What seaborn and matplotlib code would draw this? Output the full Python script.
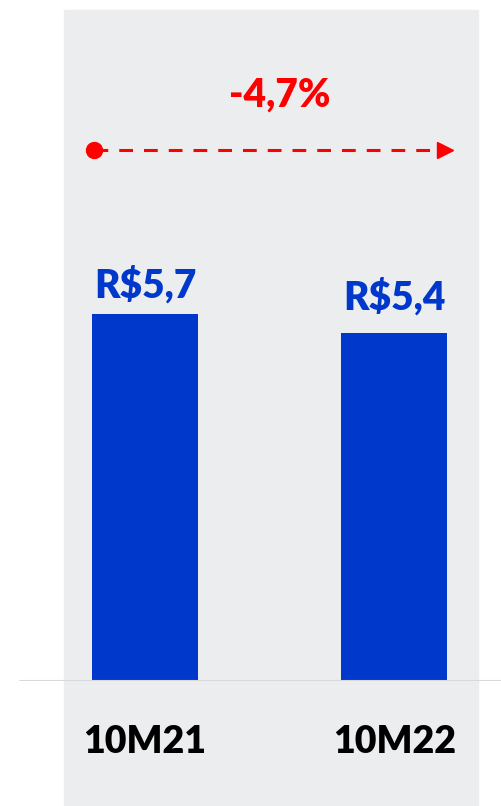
import matplotlib
matplotlib.use("Agg")
import matplotlib.pyplot as plt
from matplotlib.patches import Rectangle
import pandas as pd
import seaborn as sns

# Data
periods = ["10M21", "10M22"]
values = [5.7, 5.4]
value_labels = ["R$5,7", "R$5,4"]
change_label = "-4,7%"

BLUE = "#0038CC"
RED = "#FF0000"
PANEL = "#ECEDEF"
WEIGHT = "heavy"

sns.set_style("white")
plt.rcParams["font.family"] = ["Lato", "DejaVu Sans"]

df = pd.DataFrame({"period": periods, "value": values})

fig = plt.figure(figsize=(5.01, 8.06), dpi=100)
# gray background panel behind the chart
fig.patches.append(Rectangle((64 / 501, 0), (478 - 64) / 501, 796 / 806,
                             transform=fig.transFigure, color=PANEL, zorder=-10))
ax = fig.add_axes([0, 125 / 806, 1, 681 / 806])
ax.set_facecolor("none")
ax.set_zorder(1)

sns.barplot(data=df, x="period", y="value", color=BLUE, saturation=1,
            width=0.425, linewidth=0, ax=ax)

ax.set_xlim(-0.581, 1.427)
ax.set_ylim(0, 10.576)
sns.despine(ax=ax, left=True, bottom=True)
ax.set_yticks([])
ax.set_xlabel("")
ax.set_ylabel("")
ax.axhline(0, xmin=0.04, xmax=1, color="#D9D9D9", lw=1.5, zorder=1)

ax.tick_params(axis="x", length=0, pad=51.8, labelsize=27)
for lbl in ax.get_xticklabels():
    lbl.set_fontweight(WEIGHT)
    lbl.set_verticalalignment("baseline")
    lbl.set_color("black")

# value labels above bars
pads = [11.5, 17.3]
for i, (v, txt) in enumerate(zip(values, value_labels)):
    ax.annotate(txt, (i, v), xytext=(0, pads[i]), textcoords="offset points",
                ha="center", va="baseline", fontsize=28, fontweight=WEIGHT,
                color=BLUE)

# change arrow
y_arrow = 8.25
x0, x1 = 0 - 0.204, 1 + 0.17
ax.plot([x0, x1], [y_arrow, y_arrow], color=RED, lw=2.2, ls=(0, (4.5, 3.6)),
        zorder=3)
ax.plot([x0], [y_arrow], "o", color=RED, ms=11.5, zorder=4)
ax.plot([1 + 0.202], [y_arrow], ">", color=RED, ms=11.5, zorder=4)
ax.text(0.54, 8.914, change_label, ha="center", va="baseline", fontsize=28,
        fontweight=WEIGHT, color=RED)

fig.savefig("out.png", dpi=100)
